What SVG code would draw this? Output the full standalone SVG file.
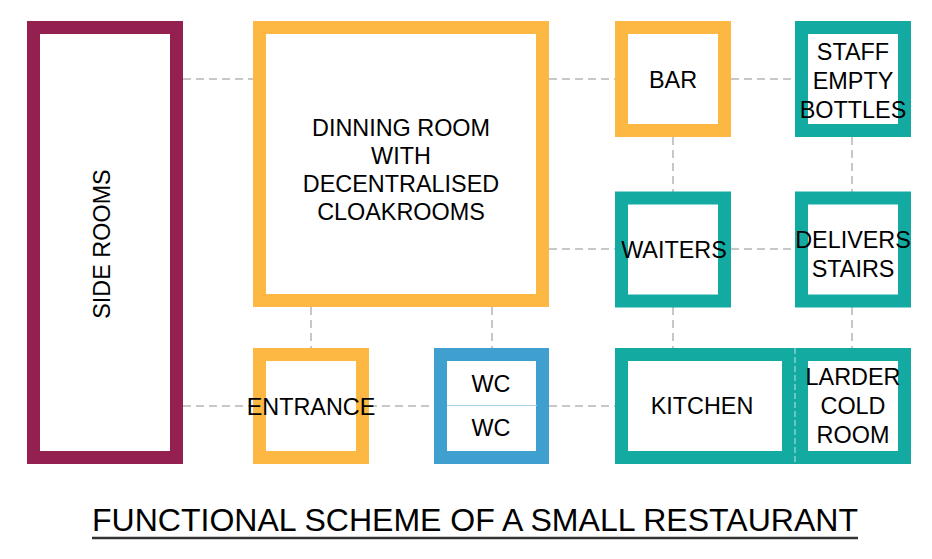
<svg xmlns="http://www.w3.org/2000/svg" width="932" height="559" viewBox="0 0 932 559">
  <style>
    .room { fill: #ffffff; stroke-width: 13; }
    .purple { stroke: #93204f; }
    .yellow { stroke: #fcb843; }
    .teal { stroke: #13aaa2; }
    .blue { stroke: #3f9fce; }
    .conn { fill: none; stroke: #c8c8c8; stroke-width: 2; stroke-dasharray: 8 5; }
    .lbl { font-family: "Liberation Sans", Arial, sans-serif; font-size: 23.4px; fill: #000000; text-anchor: middle; }
  </style>
  <rect x="0" y="0" width="932" height="559" fill="#ffffff"/>

  <g id="connectors">
    <line class="conn" x1="183" y1="79" x2="253" y2="79"/>
    <line class="conn" x1="549" y1="79" x2="615" y2="79"/>
    <line class="conn" x1="731" y1="79" x2="795" y2="79"/>
    <line class="conn" x1="549" y1="249" x2="615" y2="249"/>
    <line class="conn" x1="731" y1="249" x2="795" y2="249"/>
    <line class="conn" x1="183" y1="406" x2="253" y2="406"/>
    <line class="conn" x1="369" y1="406" x2="434" y2="406"/>
    <line class="conn" x1="549" y1="406" x2="615" y2="406"/>
    <line class="conn" x1="673" y1="137" x2="673" y2="192"/>
    <line class="conn" x1="852" y1="137" x2="852" y2="192"/>
    <line class="conn" x1="673" y1="307" x2="673" y2="348"/>
    <line class="conn" x1="852" y1="307" x2="852" y2="348"/>
    <line class="conn" x1="311" y1="307" x2="311" y2="348"/>
    <line class="conn" x1="492" y1="307" x2="492" y2="348"/>
  </g>

  <g id="side-rooms">
    <rect class="room purple" x="33.5" y="27.5" width="143" height="430"/>
    <text class="lbl" transform="translate(110 244) rotate(-90)">SIDE ROOMS</text>
  </g>

  <g id="dining-room">
    <rect class="room yellow" x="259.5" y="27.5" width="283" height="273"/>
    <text class="lbl" x="401" y="136">DINNING ROOM</text>
    <text class="lbl" x="401" y="164">WITH</text>
    <text class="lbl" x="401" y="192">DECENTRALISED</text>
    <text class="lbl" x="401" y="220">CLOAKROOMS</text>
  </g>

  <g id="bar">
    <rect class="room yellow" x="621.5" y="27.5" width="103" height="103"/>
    <text class="lbl" x="673" y="88">BAR</text>
  </g>

  <g id="staff">
    <rect class="room teal" x="801.5" y="27.5" width="103" height="103"/>
    <text class="lbl" x="853" y="60">STAFF</text>
    <text class="lbl" x="853" y="89">EMPTY</text>
    <text class="lbl" x="853" y="118">BOTTLES</text>
  </g>

  <g id="waiters">
    <rect class="room teal" x="621.5" y="198" width="103" height="103"/>
    <text class="lbl" x="674" y="258">WAITERS</text>
  </g>

  <g id="delivers">
    <rect class="room teal" x="801.5" y="198" width="103" height="103"/>
    <text class="lbl" x="853" y="248">DELIVERS</text>
    <text class="lbl" x="853" y="277">STAIRS</text>
  </g>

  <g id="entrance">
    <rect class="room yellow" x="259.5" y="354.5" width="103" height="103"/>
    <text class="lbl" x="311" y="415">ENTRANCE</text>
  </g>

  <g id="wc">
    <rect class="room blue" x="440.5" y="354.5" width="102" height="103"/>
    <line x1="447" y1="405.5" x2="537" y2="405.5" stroke="#a8d3ea" stroke-width="1"/>
    <text class="lbl" x="491" y="392">WC</text>
    <text class="lbl" x="491" y="436">WC</text>
  </g>

  <g id="kitchen">
    <rect class="room teal" x="621.5" y="354.5" width="167" height="103"/>
    <text class="lbl" x="702" y="414">KITCHEN</text>
  </g>

  <g id="larder">
    <rect class="room teal" x="801.5" y="354.5" width="103" height="103"/>
    <line x1="795" y1="348" x2="795" y2="464" stroke="#bfe6e2" stroke-width="1" stroke-dasharray="6 3"/>
    <text class="lbl" x="853" y="385">LARDER</text>
    <text class="lbl" x="853" y="414">COLD</text>
    <text class="lbl" x="853" y="443">ROOM</text>
  </g>

  <g id="title">
    <text x="92" y="531" font-family="Liberation Sans, Arial, sans-serif" font-size="31" fill="#000000" textLength="766" lengthAdjust="spacingAndGlyphs">FUNCTIONAL SCHEME OF A SMALL RESTAURANT</text>
    <line x1="92" y1="538" x2="858" y2="538" stroke="#333333" stroke-width="2.5"/>
  </g>
</svg>
